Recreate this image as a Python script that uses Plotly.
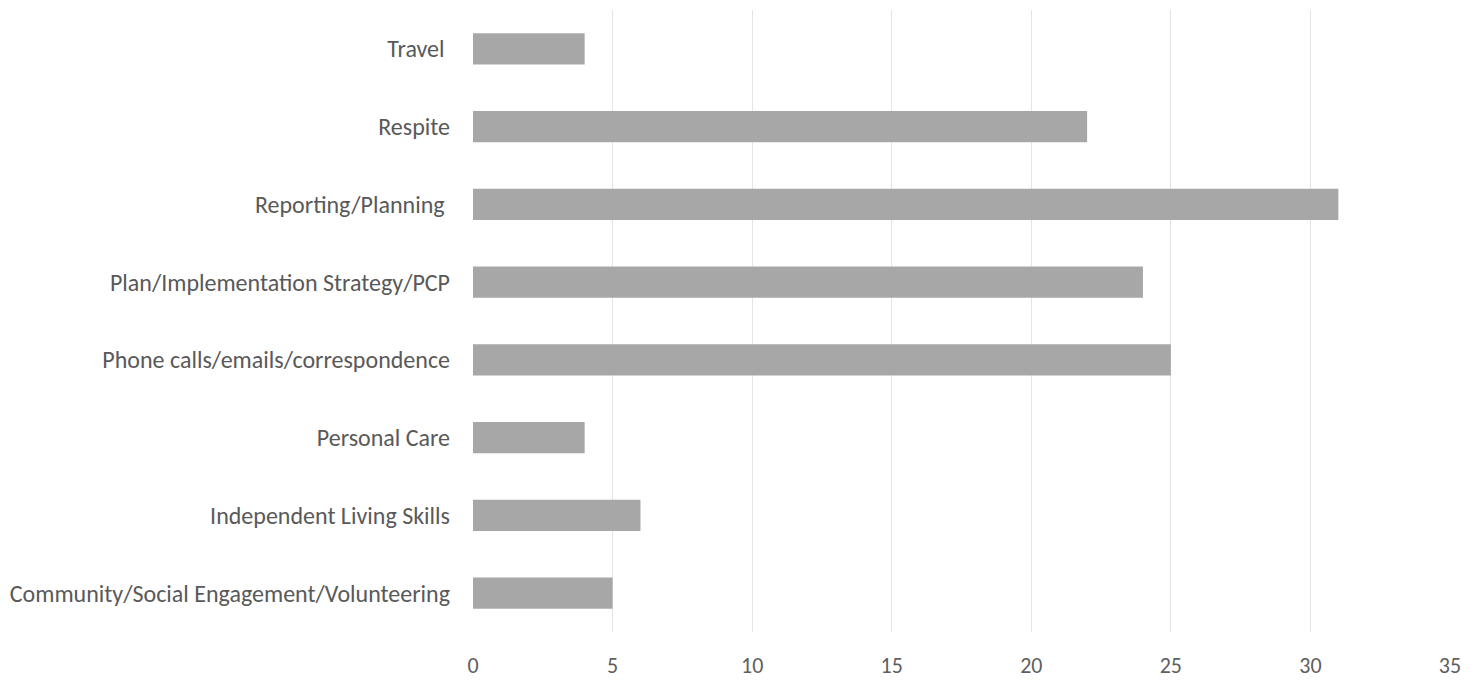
import plotly.graph_objects as go

categories = [
    "Community/Social Engagement/Volunteering",
    "Independent Living Skills",
    "Personal Care",
    "Phone calls/emails/correspondence",
    "Plan/Implementation Strategy/PCP",
    "Reporting/Planning\u00a0",
    "Respite",
    "Travel\u00a0",
]
values = [5, 6, 4, 25, 24, 31, 22, 4]
x_ticks = [0, 5, 10, 15, 20, 25, 30, 35]

fig = go.Figure(
    go.Bar(
        y=categories,
        x=values,
        orientation="h",
        width=0.4,
        marker=dict(color="#a7a7a7", line=dict(width=0)),
    )
)

font_family = "Carlito, Calibri, Lato, sans-serif"

# page body has an 8px default margin, so the figure is sized to fill the rest
fig.update_layout(
    width=1470,
    height=673,
    margin=dict(l=465, r=28, t=2, b=41),
    plot_bgcolor="white",
    paper_bgcolor="white",
    showlegend=False,
    font=dict(family=font_family, size=24, color="#595959"),
)
fig.update_xaxes(
    range=[0, 35],
    tickvals=x_ticks,
    showgrid=True,
    gridcolor="#e4e4e4",
    gridwidth=1,
    zeroline=False,
    showline=False,
    ticks="",
    ticklabelstandoff=18,
    tickfont=dict(size=22, color="#5f5f5f"),
)
fig.update_yaxes(
    type="category",
    categoryorder="array",
    categoryarray=categories,
    range=[-0.5, 7.5],
    showgrid=False,
    zeroline=False,
    showline=False,
    ticks="",
    ticklabelstandoff=22,
    tickfont=dict(size=24, color="#595959"),
)

fig.write_html("out.html")
